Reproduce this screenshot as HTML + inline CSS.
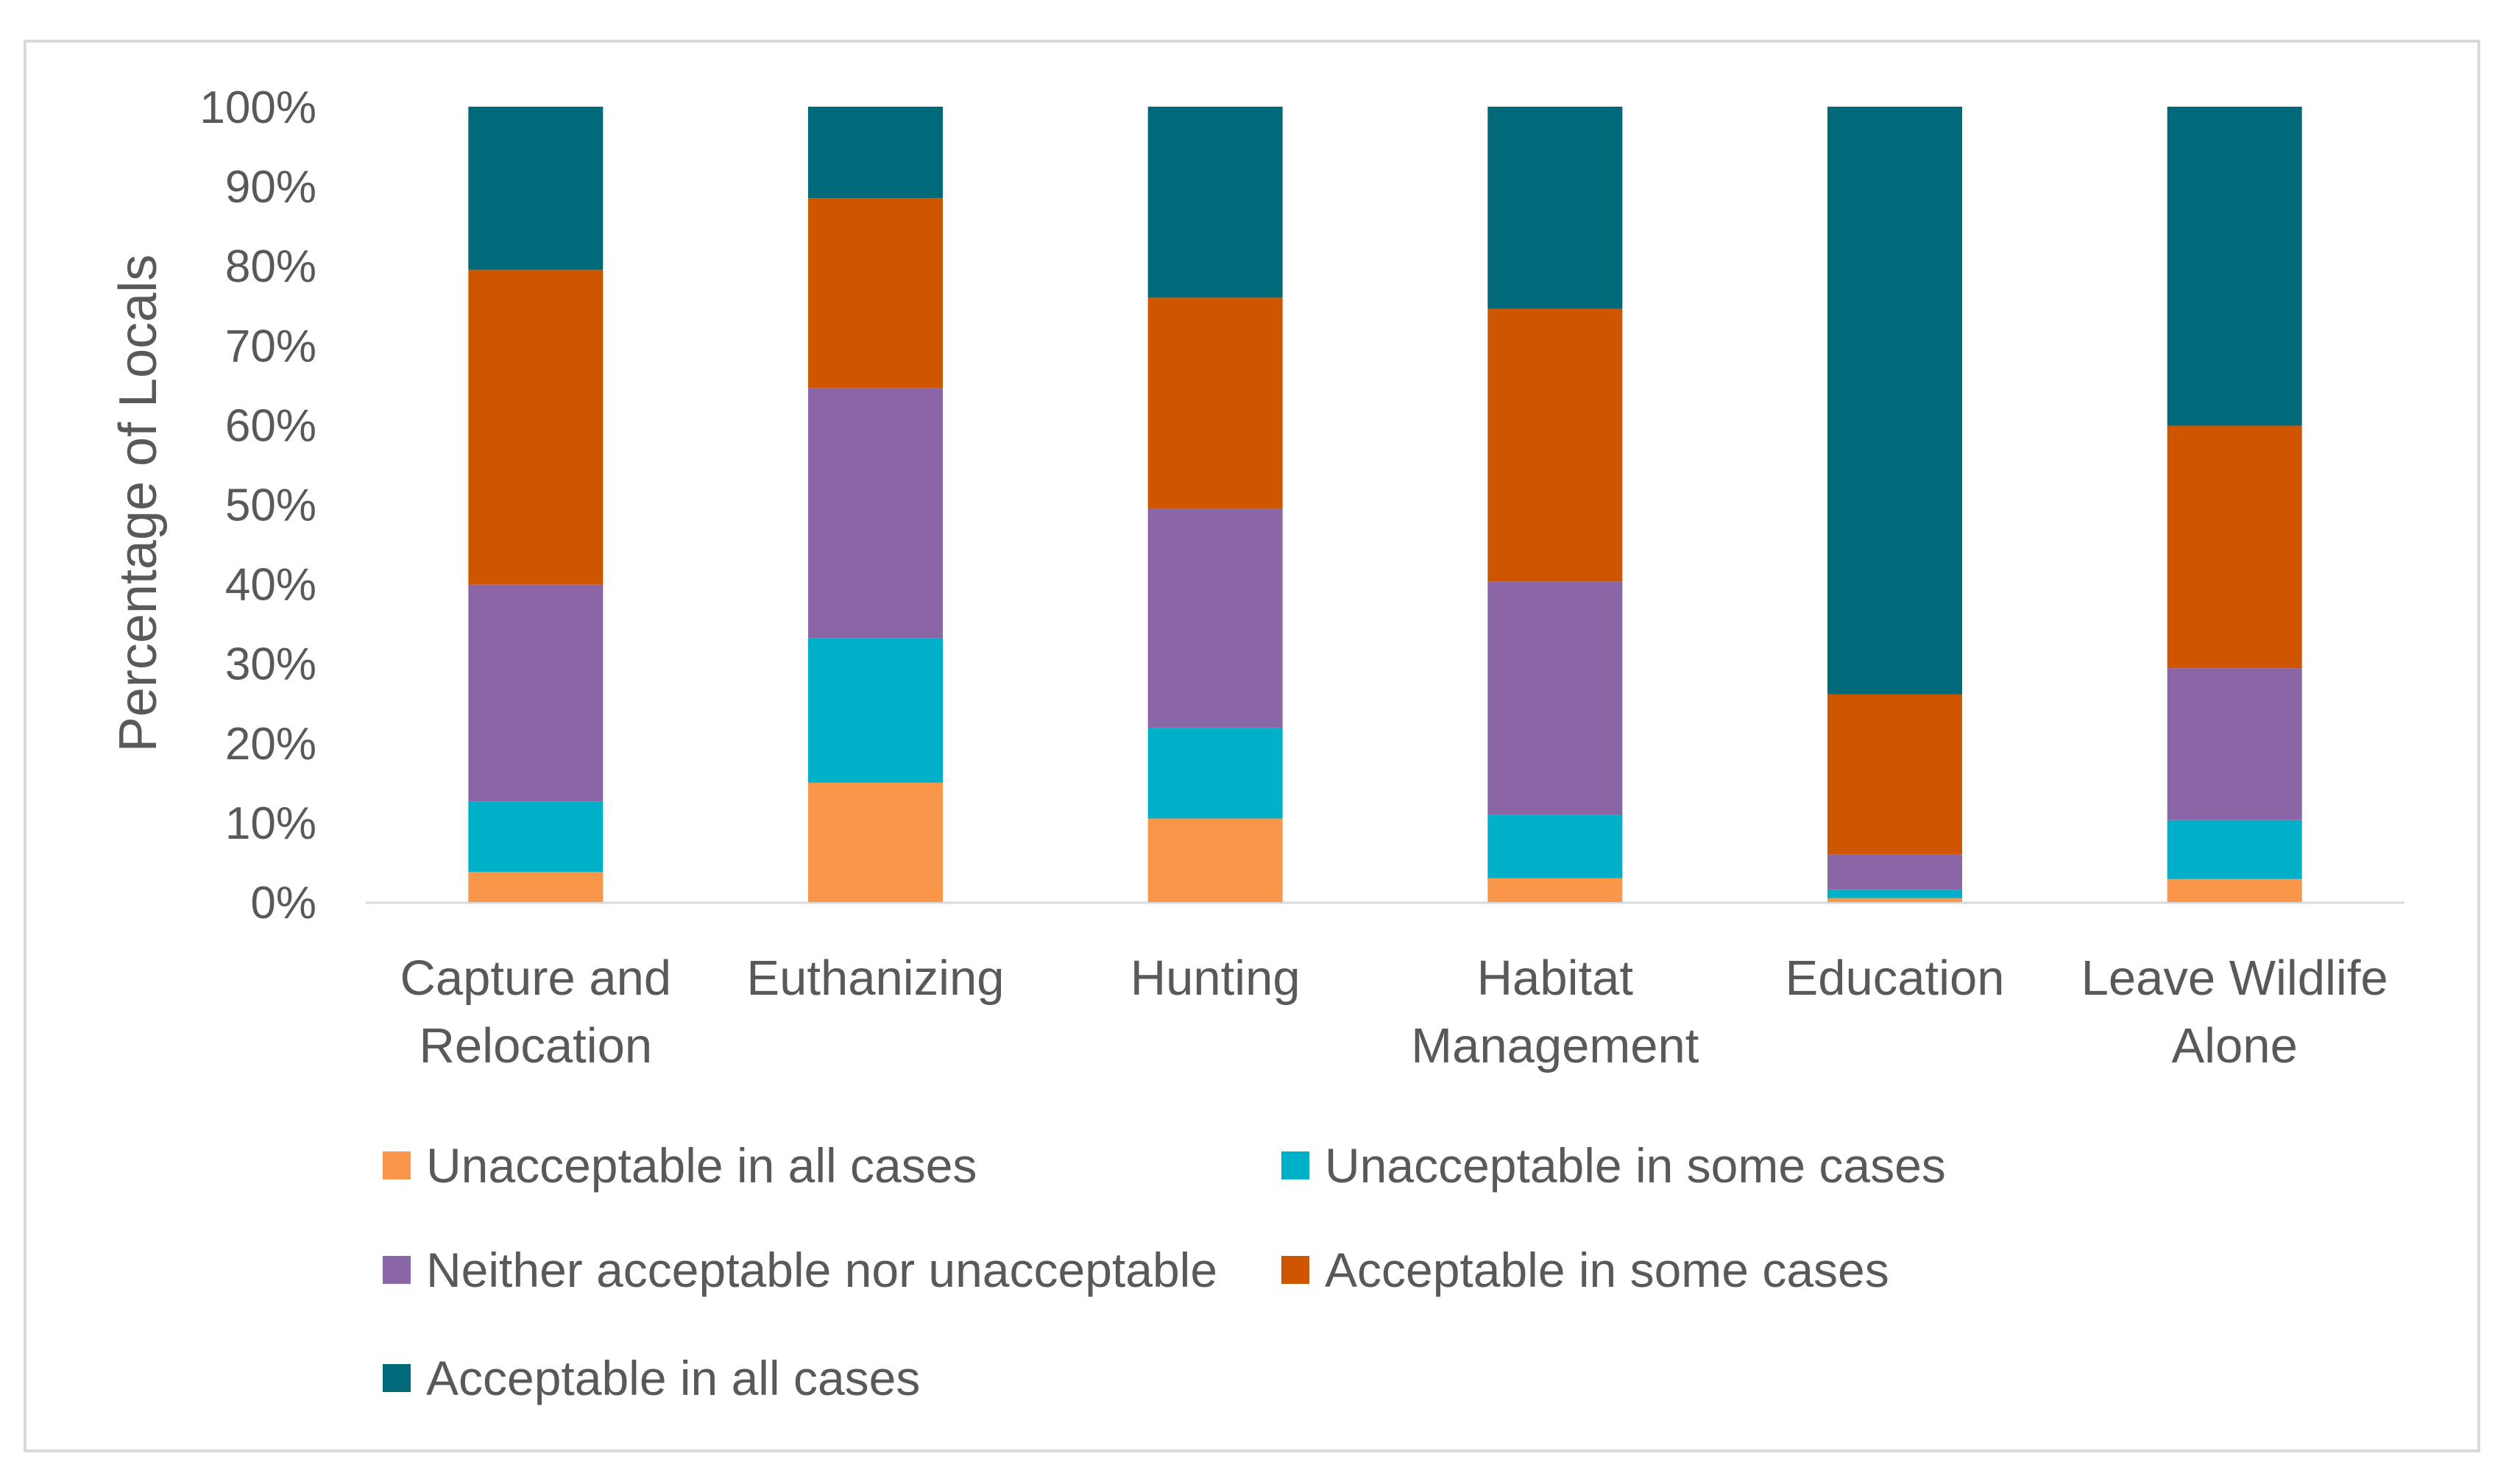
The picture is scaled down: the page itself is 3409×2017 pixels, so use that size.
<!DOCTYPE html>
<html><head><meta charset="utf-8"><style>
html,body{margin:0;padding:0;background:#fff;}
svg{display:block;font-family:"Liberation Sans",sans-serif;}
</style></head><body>
<svg id="chart" width="3409" height="2017" viewBox="0 0 3409 2017" xmlns="http://www.w3.org/2000/svg">
<rect x="34" y="56" width="3334" height="1916" fill="#fff" stroke="#d9d9d9" stroke-width="4"/>
<g id="grid"></g>
<g id="bars"></g>
<g id="yticks"></g>
<g id="xlabels"></g>
<text transform="translate(212,684) rotate(-90)" text-anchor="middle" font-size="72" fill="#595959">Percentage of Locals</text>
<g id="legend"></g>
</svg>
<script>
const categories = [["Capture and","Relocation"],["Euthanizing"],["Hunting"],["Habitat","Management"],["Education"],["Leave Wildlife","Alone"]];
const seriesNames = ["Unacceptable in all cases","Unacceptable in some cases","Neither acceptable nor unacceptable","Acceptable in some cases","Acceptable in all cases"];
const unaccAll = [3.8, 15, 10.5, 3, 0.5, 2.9];
const unaccSome = [8.8, 18.2, 11.4, 8, 1, 7.4];
const neither = [27.3, 31.4, 27.6, 29.3, 4.5, 19.1];
const accSome = [39.6, 23.9, 26.5, 34.3, 20.1, 30.5];
const accAll = [20.5, 11.5, 24, 25.4, 73.9, 40.1];
const yTicks = [0,10,20,30,40,50,60,70,80,90,100];
const colors = ["#F9964A","#00AFC8","#8B66A6","#CF5600","#006A7A"];
const series = [unaccAll, unaccSome, neither, accSome, accAll];
const NS = "http://www.w3.org/2000/svg";
const x0 = 497, x1 = 3267, yTop = 145, yBot = 1226;
const y = v => yBot - (v/100)*(yBot - yTop);
const bandW = (x1 - x0)/categories.length;
const cx = i => x0 + bandW*(i+0.5);
const barW = 183;
function mk(tag, attrs, parent){const e=document.createElementNS(NS,tag);for(const k in attrs)e.setAttribute(k,attrs[k]);parent.appendChild(e);return e;}
const grid=document.getElementById('grid'), bars=document.getElementById('bars'), yt=document.getElementById('yticks'), xl=document.getElementById('xlabels'), lg=document.getElementById('legend');
const axis = mk('line',{x1:x0,x2:x1,y1:yBot+1,y2:yBot+1,stroke:'#d9d9d9','stroke-width':3},grid);


yTicks.forEach(t=>{
  const tx = mk('text',{x:430,y:y(t)+22,'text-anchor':'end','font-size':62,fill:'#595959'},yt);
  tx.textContent = t+'%';
  
  
});
categories.forEach((c,i)=>{
  let cum=0;
  series.forEach((s,k)=>{
    const r = mk('rect',{x:cx(i)-barW/2,y:y(cum+s[i]),width:barW,height:y(cum)-y(cum+s[i]),fill:colors[k]},bars);
    
    
    cum+=s[i];
  });
  c.forEach((line,j)=>{
    const t = mk('text',{x:cx(i),y:1352+j*92,'text-anchor':'middle','font-size':67,fill:'#595959'},xl);
    t.textContent=line;
    
    
  });
});
const legPos=[[520,1584],[1741,1584],[520,1726],[1741,1726],[520,1873]];
seriesNames.forEach((n,k)=>{
  const g = mk('g',{},lg);
  
  
  const [lx,ly]=legPos[k];
  mk('rect',{x:lx,y:ly-19,width:38,height:38,fill:colors[k]},g);
  const t = mk('text',{x:lx+59,y:ly+23,'font-size':66,fill:'#595959'},g);
  t.textContent=n;
});
</script>
</body></html>
